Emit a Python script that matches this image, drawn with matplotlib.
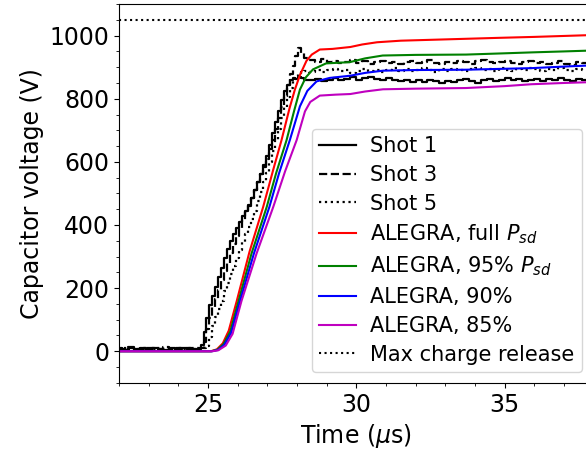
import numpy as np
import matplotlib.pyplot as plt
from matplotlib.ticker import MultipleLocator

t_base = np.linspace(22.0, 24.6, 14)
t_rise = np.linspace(24.7, 28.3, 37)
t_plat = np.linspace(28.5, 37.9, 48)
t_shot = np.concatenate([t_base, t_rise, t_plat])

shot1_base = [8, 5, 10, 6, 9, 4, 11, 7, 5, 9, 6, 10, 7, 8]
shot1_rise = [8, 20, 60, 105, 145, 175, 205, 235, 265, 295, 325, 350, 372,
              392, 410, 428, 445, 462, 485, 510, 535, 560, 590,
              620, 655, 690, 725, 760, 795, 825, 845, 858, 866,
              862, 870, 866, 860]
shot1_plat = [858, 864, 855, 861, 866, 859, 863, 868, 860, 865,
              870, 862, 858, 866, 861, 855, 860, 852, 858, 854,
              861, 856, 850, 857, 853, 859, 862, 856, 851, 858,
              863, 857, 861, 866, 858, 862, 855, 860, 864, 857,
              862, 858, 865, 860, 856, 862, 858, 861]

shot3_base = [10, 6, 12, 8, 5, 11, 9, 7, 12, 6, 10, 8, 11, 9]
shot3_rise = [9, 10, 30, 70, 105, 140, 165, 195, 225, 255, 280, 310, 340,
              365, 390, 415, 440, 460, 485, 510, 535, 560, 585,
              610, 640, 670, 705, 740, 775, 810, 845, 880, 905,
              935, 962, 945, 928]
shot3_plat = [922, 918, 926, 915, 920, 912, 917, 923, 914, 919,
              911, 916, 921, 913, 918, 909, 915, 920, 912, 917,
              922, 914, 910, 918, 913, 920, 916, 911, 919, 924,
              915, 912, 918, 921, 913, 909, 916, 920, 912, 917,
              910, 914, 919, 911, 908, 915, 912, 910]

shot5_base = [6, 9, 4, 8, 11, 7, 5, 10, 8, 6, 9, 7, 10, 8]
shot5_rise = [7, 8, 9, 15, 45, 80, 110, 135, 160, 190, 215, 245, 270,
              295, 320, 345, 370, 395, 420, 445, 475, 505, 535,
              565, 600, 635, 670, 705, 740, 775, 805, 835, 858,
              872, 880, 885, 888]
shot5_plat = [886, 892, 884, 890, 895, 887, 891, 883, 889, 894,
              888, 892, 885, 890, 896, 889, 893, 887, 891, 897,
              890, 886, 893, 888, 895, 891, 887, 894, 899, 890,
              893, 888, 896, 892, 889, 895, 891, 898, 893, 888,
              894, 890, 896, 892, 889, 895, 891, 893]

shot1 = np.concatenate([shot1_base, shot1_rise, shot1_plat])
shot3 = np.concatenate([shot3_base, shot3_rise, shot3_plat])
shot5 = np.concatenate([shot5_base, shot5_rise, shot5_plat])

# --- ALEGRA simulations ---
t_full = [22, 25.1, 25.3, 25.5, 25.7, 25.97, 26.4, 26.86, 27.2, 27.48, 27.75,
          27.93, 28.1, 28.32, 28.5, 28.77, 29.2, 29.8, 30.2, 30.7, 31.5,
          32.6, 33.7, 34.8, 36.0, 37.0, 38.0]
v_full = [0, 0, 6, 25, 65, 159, 315, 457, 575, 669, 770,
          829, 875, 920, 940, 956, 958, 964, 972, 979, 984,
          987, 990, 993, 996, 999, 1002]

t_95 = [22, 25.12, 25.32, 25.52, 25.75, 26.03, 26.47, 26.98, 27.3, 27.65,
        27.9, 28.1, 28.3, 28.54, 28.98, 29.78, 30.3, 30.89, 32.0,
        33.7, 35.0, 35.94, 37.0, 38.0]
v_95 = [0, 0, 5, 22, 62, 159, 310, 457, 565, 669,
        760, 829, 868, 893, 912, 916, 928, 937, 939,
        940, 944, 947, 950, 953]

t_90 = [22, 25.14, 25.34, 25.55, 25.78, 26.08, 26.55, 27.07, 27.4, 27.76,
        28.1, 28.35, 28.66, 29.1, 29.8, 30.3, 30.9, 32.0,
        33.7, 35.0, 35.9, 37.0, 38.0]
v_90 = [0, 0, 4, 20, 58, 159, 310, 457, 565, 669,
        776, 825, 855, 866, 873, 882, 889, 891,
        892, 895, 897, 902, 906]

t_85 = [22, 25.15, 25.35, 25.6, 25.83, 26.13, 26.64, 27.2, 27.6, 27.99,
        28.27, 28.45, 28.77, 29.3, 29.8, 30.3, 30.9, 32.0,
        33.7, 35.0, 35.9, 37.0, 38.0]
v_85 = [0, 0, 3, 18, 55, 159, 310, 457, 570, 669,
        760, 790, 810, 813, 815, 823, 830, 832,
        834, 840, 846, 850, 853]

max_charge = 1050

plt.rcParams['font.size'] = 17

fig = plt.figure(figsize=(5.86, 4.53), dpi=100)
ax = fig.add_axes([0.203, 0.155, 0.81, 0.836])

ax.plot(t_shot, shot1, 'k-', lw=1.6, drawstyle='steps-mid', label='Shot 1')
ax.plot(t_shot, shot3, 'k--', lw=1.6, drawstyle='steps-mid', label='Shot 3')
ax.plot(t_shot, shot5, 'k:', lw=1.6, drawstyle='steps-mid', label='Shot 5')
ax.plot(t_full, v_full, color='red', lw=1.5, label=r'ALEGRA, full $P_{sd}$')
ax.plot(t_95, v_95, color='green', lw=1.5, label=r'ALEGRA, 95% $P_{sd}$')
ax.plot(t_90, v_90, color='blue', lw=1.5, label='ALEGRA, 90%')
ax.plot(t_85, v_85, color='m', lw=1.5, label='ALEGRA, 85%')
ax.axhline(max_charge, color='k', ls=':', lw=1.5, label='Max charge release')

ax.set_xlim(22, 38)
ax.set_ylim(-100, 1100)
ax.xaxis.set_major_locator(MultipleLocator(5))
ax.xaxis.set_minor_locator(MultipleLocator(1))
ax.yaxis.set_major_locator(MultipleLocator(200))
ax.yaxis.set_minor_locator(MultipleLocator(50))
ax.set_xlabel(r'Time ($\mu$s)')
ax.set_ylabel('Capacitor voltage (V)')

ax.legend(loc='lower right', bbox_to_anchor=(582 / 586, (453 - 372) / 453),
          bbox_transform=fig.transFigure, borderaxespad=0, fontsize=15,
          labelspacing=0.42, handlelength=1.75, handletextpad=0.7,
          borderpad=0.35)

fig.savefig('out.png', dpi=100)
